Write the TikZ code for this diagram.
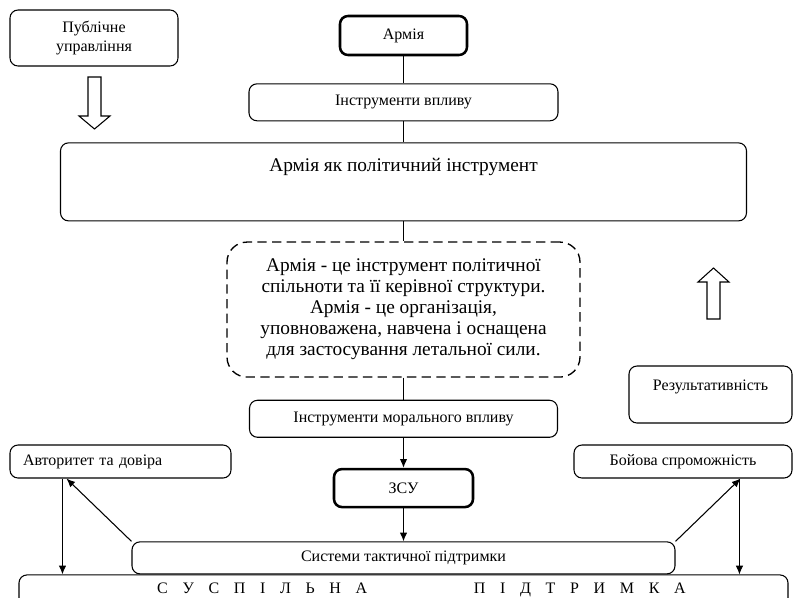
\documentclass[tikz,border=0pt]{standalone}
\usepackage{fontspec}
\setmainfont{Liberation Serif}
\usetikzlibrary{positioning,calc,arrows.meta}
\tikzset{block/.style={draw,rounded corners=6pt,line width=0.8pt,align=center,inner sep=2pt,font=\fontsize{12}{14.5}\selectfont},
         mainblock/.style={block,line width=1.9pt},
         line/.style={-{Latex[length=6.5pt,width=5.5pt]},line width=0.8pt}
}
\tikzstyle{link} = [line width=0.8pt]
\tikzstyle{bigarrow} = [draw,line width=0.8pt,fill=white]

\begin{document}
\begin{tikzpicture}[x=0.75pt,y=-0.75pt]
\useasboundingbox (0,0) rectangle (793,597);
\clip (0,0) rectangle (793,597);

\node[mainblock,minimum width=95.25pt,minimum height=29.25pt] (army) at (403.5,35.5) {Армія};
\node[block,below=20.25pt of army,minimum width=231.75pt,minimum height=27.75pt] (tools) {Інструменти впливу};
\node[block,below=15.75pt of tools,minimum width=514.5pt,inner ysep=0pt,text height=21.75pt,text depth=36.75pt,font=\fontsize{14.5}{17}\selectfont] (polit) {Армія як політичний інструмент};
\node[block,below=15pt of polit,minimum width=264.75pt,minimum height=101.25pt,rounded corners=15pt,line width=1pt,dash pattern=on 7pt off 4pt,font=\fontsize{14.5}{15.75}\selectfont] (def) {Армія - це інструмент політичної\\спільноти та її керівної структури.\\Армія - це організація,\\уповноважена, навчена і оснащена\\для застосування летальної сили.};
\node[block,below=16.5pt of def,minimum width=231pt,minimum height=27.75pt] (moral) {Інструменти морального впливу};
\node[mainblock,below=22.5pt of moral,minimum width=104.25pt,minimum height=28.5pt] (zsu) {ЗСУ};
\node[block,below=24.75pt of zsu,minimum width=407.25pt,minimum height=24pt] (sys) {Системи тактичної підтримки};
\node[block,below=0pt of sys,minimum width=576.75pt,minimum height=30pt] (soc) {};
\node[anchor=base,inner sep=1pt,font=\fontsize{12}{14.5}\selectfont] (soctext) at ($(soc.north)+(18,19.5)$) {\spaceskip=11pt С У С П І Л Ь Н А\hspace{80pt}П І Д Т Р И М К А};

\node[block,minimum width=126pt,minimum height=42pt] (pub) at (94,38) {Публічне\\управління};
\node[block,minimum width=165.75pt,minimum height=24.75pt,inner xsep=9.75pt,text width=146.25pt,align=left] (auth) at (120.5,461.5) {Авторитет та довіра};
\node[block,minimum width=163.5pt,minimum height=24.75pt] (combat) at (683,461.5) {Бойова спроможність};
\node[block,minimum width=122.25pt,inner ysep=0pt,text height=18pt,text depth=24.75pt] (result) at (710.5,394.5) {Результативність};

% block arrows
\draw[bigarrow] (88,77) -- (101,77) -- (101,116) -- (110,116) -- (94.5,129) -- (79,116) -- (88,116) -- cycle;
\draw[bigarrow] (707,319) -- (720,319) -- (720,282) -- (729,282) -- (713.5,268) -- (698,282) -- (707,282) -- cycle;

\coordinate (authdown) at ($(auth.south west)+(53,0)$);
\coordinate (authup) at ($(auth.south west)+(57,0)$);
\coordinate (combatup) at ($(combat.south west)+(167,0)$);
\coordinate (combatdown) at ($(combat.south west)+(166,0)$);

\draw[link] (army)--(tools);
\draw[link] (tools)--(polit);
\draw[link] (polit)--(def);
\draw[link] (def)--(moral);
\draw[line] (moral)--(zsu);
\draw[line] (zsu)--(sys);
\draw[line] (authdown)--(authdown |- soc.north);
\draw[line] (sys.north west)--(authup);
\draw[line] (sys.north east)--(combatup);
\draw[line,line width=0.5pt] (combatdown)--(combatdown |- soc.north);

\end{tikzpicture}
\end{document}
